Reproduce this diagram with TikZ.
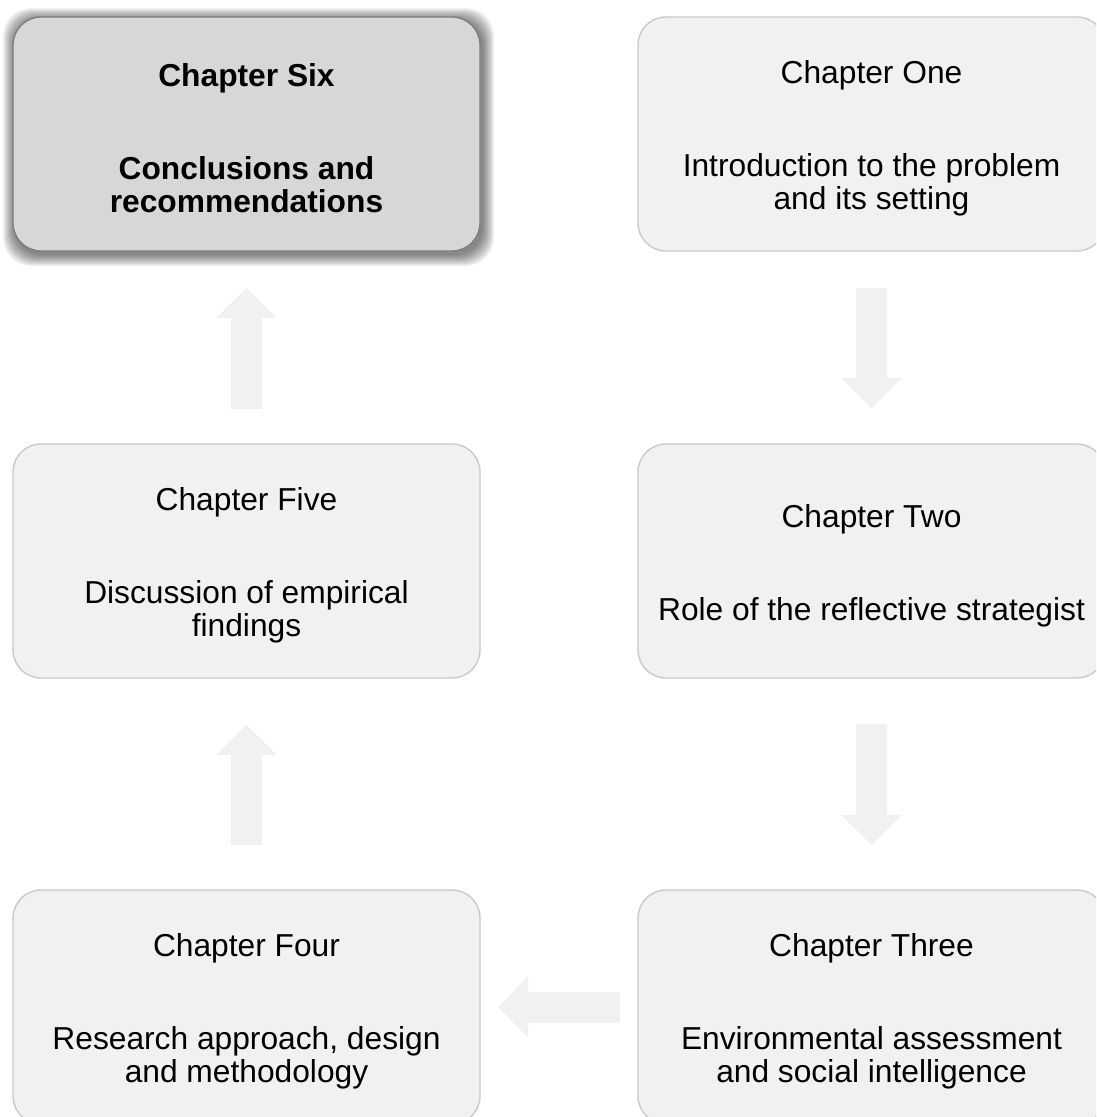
\documentclass[tikz,border=0pt]{standalone}
\usepackage{fontspec}
\setmainfont{Liberation Sans}
\usetikzlibrary{positioning,arrows.meta,backgrounds}

\definecolor{boxfill}{RGB}{241,241,241}
\definecolor{boxline}{RGB}{200,200,200}
\definecolor{sixfill}{RGB}{215,215,215}
\definecolor{sixline}{RGB}{125,125,125}

% chapter heading, gap, then the chapter's subject
\newcommand{\chapbox}[2]{\rule{0pt}{24pt}#1\\[45pt]#2}

\begin{document}
\begin{tikzpicture}[
    x=0.75pt, y=0.75pt,
    box/.style={draw=boxline, fill=boxfill, line width=1pt, rounded corners=21pt, align=center,
        minimum width=350.25pt, minimum height=175.5pt, inner sep=0pt, outer sep=0pt,
        font=\fontsize{23.8pt}{24.75pt}\selectfont},
    current/.style={box, draw=sixline, fill=sixfill, font=\fontsize{23.8pt}{24.75pt}\selectfont\bfseries},
    blockarr/.style={draw=boxfill, line width=23.25pt,
        -{Triangle[length=22.5pt, width=45.75pt, line width=0pt, fill=boxfill]}},
    node distance=144.75pt and 118.5pt]

\path[use as bounding box] (0,0) rectangle (1096,-1117);
\clip (0,0) rectangle (1096,-1117);

% --- top row
\node[current, anchor=north west] (six) at (13,-17) {\chapbox{Chapter Six}{Conclusions and\\recommendations}};
\node[box, right=of six] (one) {\chapbox{Chapter One}{Introduction to the problem\\and its setting}};

% --- middle row
\node[box, below=of six] (five) {\chapbox{Chapter Five}{Discussion of empirical\\findings}};
\node[box, below=of one] (two) {\chapbox{Chapter Two}{Role of the reflective strategist}};

% --- bottom row
\node[box, below=159pt of five] (four) {\chapbox{Chapter Four}{Research approach, design\\and methodology}};
\node[box, below=159pt of two] (three) {\chapbox{Chapter Three}{Environmental assessment\\and social intelligence}};

% --- shadow behind the current chapter
\begin{scope}[on background layer]
\foreach \k in {1,2,...,12}
  \fill[black, opacity=0.05, rounded corners=21pt]
    ([shift={(-\k+2,\k-3)}]six.north west) rectangle ([shift={(\k+2,-\k-3)}]six.south east);
\end{scope}

% --- reading order
\draw[blockarr, shorten <=27.75pt, shorten >=27pt] (one.south) -- (two.north);
\draw[blockarr, shorten <=34.5pt, shorten >=33.75pt] (two.south) -- (three.north);
\draw[blockarr, shorten <=13.5pt, shorten >=13.5pt] (three.west) -- (four.east);
\draw[blockarr, shorten <=33.75pt, shorten >=35.25pt] (four.north) -- (five.south);
\draw[blockarr, shorten <=26.25pt, shorten >=27.75pt] (five.north) -- (six.south);
\end{tikzpicture}
\end{document}
